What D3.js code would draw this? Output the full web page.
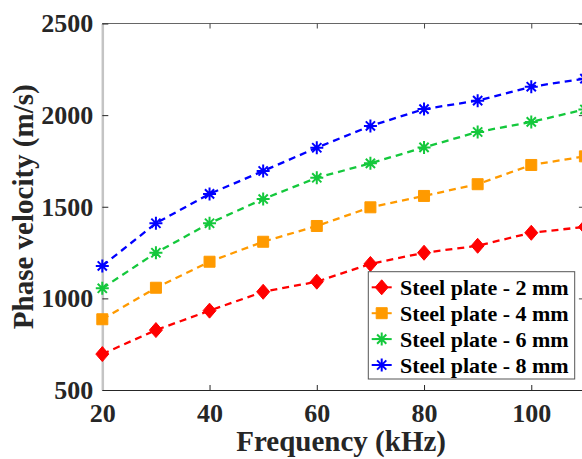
<!DOCTYPE html>
<html>
<head>
<meta charset="utf-8">
<script src="https://cdn.jsdelivr.net/npm/d3@7"></script>
<style>
    body { margin: 0; background: #fff; }
    svg { display: block; }
    .tick text { font-family: "Liberation Serif", "Times New Roman", serif; font-weight: bold; font-size: 26px; fill: #262626; }
    .axis-label { font-family: "Liberation Serif", "Times New Roman", serif; font-weight: bold; font-size: 29px; fill: #262626; }
    .legend-text { font-family: "Liberation Serif", "Times New Roman", serif; font-weight: bold; font-size: 22px; fill: #000; }
</style>
</head>
<body>
<div id="chart"></div>
<script>
// frequency (kHz)
var frequency = [20, 30, 40, 50, 60, 70, 80, 90, 100, 110];

// phase velocity (m/s) per plate thickness
var plate2mm = [696, 827, 933, 1036, 1091, 1188, 1249, 1287, 1358, 1390];
var plate4mm = [886, 1058, 1200, 1309, 1395, 1497, 1559, 1623, 1728, 1775];
var plate6mm = [1055, 1249, 1410, 1542, 1658, 1737, 1824, 1908, 1963, 2031];
var plate8mm = [1177, 1410, 1570, 1695, 1822, 1941, 2033, 2079, 2155, 2199];

var seriesNames = ["Steel plate - 2 mm", "Steel plate - 4 mm", "Steel plate - 6 mm", "Steel plate - 8 mm"];
var xTicks = [20, 40, 60, 80, 100];
var yTicks = [500, 1000, 1500, 2000, 2500];

var series = [
    {name: seriesNames[0], values: plate2mm, color: "#ff0000", marker: "diamond"},
    {name: seriesNames[1], values: plate4mm, color: "#ff9a00", marker: "square"},
    {name: seriesNames[2], values: plate6mm, color: "#14c83c", marker: "star"},
    {name: seriesNames[3], values: plate8mm, color: "#0000ff", marker: "star"}
];

var width = 582, height = 459;
var plotLeft = 102.3, plotRight = 584.9, plotTop = 23.5, plotBottom = 390;

var svg = d3.select("#chart").append("svg")
    .attr("width", width)
    .attr("height", height);

var x = d3.scaleLinear().domain([20, 110]).range([plotLeft, plotRight]);
var y = d3.scaleLinear().domain([500, 2500]).range([plotBottom, plotTop]);

// top and right box lines
svg.append("line")
    .attr("x1", plotLeft).attr("x2", plotRight).attr("y1", plotTop).attr("y2", plotTop)
    .attr("stroke", "#666").attr("stroke-width", 1);

svg.append("g")
    .attr("transform", "translate(0," + plotTop + ")")
    .call(d3.axisTop(x).tickValues(xTicks).tickSize(-5).tickFormat(""))
    .call(function(g){ g.select(".domain").remove(); })
    .selectAll("line").attr("stroke", "#444");

svg.append("g")
    .attr("transform", "translate(" + plotRight + ",0)")
    .call(d3.axisRight(y).tickValues(yTicks).tickSize(-6).tickFormat(""))
    .call(function(g){ g.select(".domain").attr("stroke", "#444"); })
    .selectAll("line").attr("stroke", "#444");

// bottom axis
var xAxis = svg.append("g")
    .attr("transform", "translate(0," + plotBottom + ")")
    .call(d3.axisBottom(x).tickValues(xTicks).tickFormat(d3.format("d"))
        .tickSize(-5).tickSizeOuter(0).tickPadding(14));
xAxis.select(".domain").attr("stroke", "#262626").attr("stroke-width", 1.2);
xAxis.selectAll(".tick line").attr("stroke", "#262626");

// left axis
var yAxis = svg.append("g")
    .attr("transform", "translate(" + plotLeft + ",0)")
    .call(d3.axisLeft(y).tickValues(yTicks).tickFormat(d3.format("d"))
        .tickSize(-6).tickSizeOuter(0).tickPadding(9));
yAxis.select(".domain").attr("stroke", "#c4c4c4").attr("stroke-width", 2.5);
yAxis.selectAll(".tick line").attr("stroke", "#262626");

// axis labels
svg.append("text")
    .attr("class", "axis-label")
    .attr("x", (plotLeft + 582) / 2 - 1)
    .attr("y", 451)
    .attr("text-anchor", "middle")
    .text("Frequency (kHz)");

svg.append("text")
    .attr("class", "axis-label")
    .attr("transform", "translate(33," + ((plotTop + plotBottom) / 2) + ") rotate(-90)")
    .attr("text-anchor", "middle")
    .text("Phase velocity (m/s)");

// marker paths
function markerPath(type) {
    if (type == "diamond") {
        return "M0,-7.5L6.5,0L0,7.5L-6.5,0Z";
    }
    if (type == "square") {
        return "M-5.5,-5.5H5.5V5.5H-5.5Z";
    }
    var r = 6.5, d = 4.6;
    return "M" + (-r) + ",0L" + r + ",0M0," + (-r) + "L0," + r +
        "M" + (-d) + "," + (-d) + "L" + d + "," + d +
        "M" + (-d) + "," + d + "L" + d + "," + (-d);
}

function styleMarker(sel, s) {
    if (s.marker == "star") {
        sel.attr("fill", "none").attr("stroke", s.color).attr("stroke-width", 2);
    } else {
        sel.attr("fill", s.color).attr("stroke", s.color).attr("stroke-width", 1);
    }
}

var line = d3.line()
    .x(function(d){ return x(d.f); })
    .y(function(d){ return y(d.v); });

series.forEach(function(s){
    var pts = frequency.map(function(f, i){ return {f: f, v: s.values[i]}; });

    svg.append("path")
        .datum(pts)
        .attr("d", line)
        .attr("fill", "none")
        .attr("stroke", s.color)
        .attr("stroke-width", 2.3)
        .attr("stroke-dasharray", "7,5");

    svg.selectAll(null)
        .data(pts)
        .enter()
        .append("path")
        .attr("d", markerPath(s.marker))
        .attr("transform", function(d){ return "translate(" + x(d.f) + "," + y(d.v) + ")"; })
        .call(styleMarker, s);
});

// legend
var legend = svg.append("g");
legend.append("rect")
    .attr("x", 368.3).attr("y", 271.7)
    .attr("width", 206.4).attr("height", 107.3)
    .attr("fill", "#fff")
    .attr("stroke", "#555")
    .attr("stroke-width", 1);

series.forEach(function(s, i){
    var ly = 287.3 + i * 25.9;
    legend.append("line")
        .attr("x1", 371.7).attr("x2", 391.7)
        .attr("y1", ly).attr("y2", ly)
        .attr("stroke", s.color).attr("stroke-width", 2);
    legend.append("path")
        .attr("d", markerPath(s.marker))
        .attr("transform", "translate(381.7," + ly + ")")
        .call(styleMarker, s);
    legend.append("text")
        .attr("class", "legend-text")
        .attr("x", 400)
        .attr("y", ly + 7.5)
        .text(s.name);
});
</script>
</body>
</html>
